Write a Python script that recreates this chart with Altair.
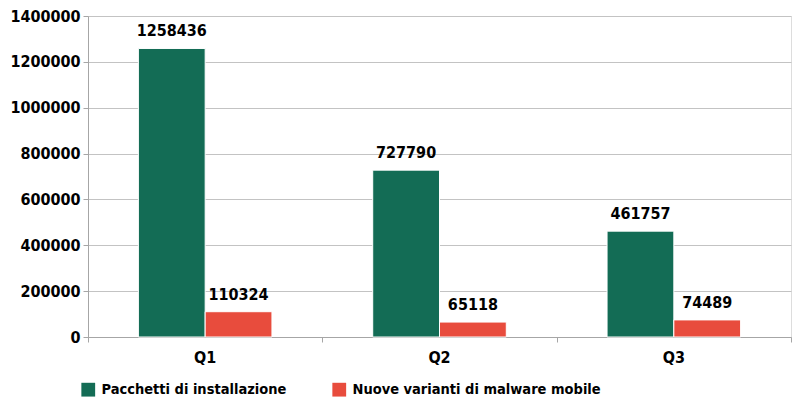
import altair as alt
import pandas as pd

quarters = ["Q1", "Q2", "Q3"]
series_names = ["Pacchetti di installazione", "Nuove varianti di malware mobile"]
pacchetti = [1258436, 727790, 461757]
varianti = [110324, 65118, 74489]
colors = ["#136c55", "#e84c3d"]
boundaries = [0, 1, 2, 3]

rows = []
for i, q in enumerate(quarters):
    rows.append({"q": q, "serie": series_names[0], "v": pacchetti[i]})
    rows.append({"q": q, "serie": series_names[1], "v": varianti[i]})
df = pd.DataFrame(rows)
df_b = pd.DataFrame({"b": boundaries})

FONT = "DejaVu Sans Condensed, sans-serif"
FS = 16

x = alt.X("q:N", title=None, sort=quarters,
          scale=alt.Scale(paddingInner=0.43, paddingOuter=0.215),
          axis=alt.Axis(orient="bottom", labelAngle=0, ticks=False,
                        labelPadding=12, domainColor="#a6a6a6",
                        labelFont=FONT, labelFontSize=FS, labelFontWeight="bold",
                        labelColor="#000000"))
xo = alt.XOffset("serie:N", sort=series_names)
y = alt.Y("v:Q", title=None,
          scale=alt.Scale(domain=[0, 1400000], nice=False),
          axis=alt.Axis(values=list(range(0, 1400001, 200000)), format="d",
                        tickSize=5, labelPadding=3, gridColor="#c3c3c3",
                        domainColor="#a6a6a6", tickColor="#a6a6a6",
                        labelFont=FONT, labelFontSize=FS, labelFontWeight="bold",
                        labelColor="#000000"))

base = alt.Chart(df)
bars = base.mark_bar(stroke="white", strokeWidth=1).encode(
    x=x, xOffset=xo, y=y,
    color=alt.Color("serie:N", sort=series_names, title=None,
                    scale=alt.Scale(domain=series_names, range=colors),
                    legend=alt.Legend(orient="none", direction="horizontal",
                                      legendX=-7, legendY=366,
                                      symbolType="square", symbolSize=190,
                                      symbolStrokeWidth=0,
                                      columnPadding=45, labelOffset=6,
                                      labelFont=FONT, labelFontSize=14.5,
                                      labelFontWeight="bold", labelColor="#000000",
                                      labelLimit=400)),
)
labels = base.mark_text(baseline="bottom", dy=-9, font=FONT, fontSize=FS,
                        fontWeight="bold", color="#000000").encode(
    x=x, xOffset=xo, y=y, text=alt.Text("v:Q", format="d"),
)

ticks = alt.Chart(df_b).mark_rule(opacity=0).encode(
    x=alt.X("b:Q", title=None, scale=alt.Scale(domain=[0, 3], nice=False),
            axis=alt.Axis(orient="bottom", values=boundaries, labels=False,
                          grid=False, tickSize=5, domain=False,
                          tickColor="#a6a6a6")),
)

chart = alt.layer(alt.layer(bars, labels), ticks).resolve_scale(
    x="independent"
).properties(
    width=703, height=321,
    autosize=alt.AutoSizeParams(type="none"),
    padding={"left": 80, "top": 8, "right": 1, "bottom": 61},
).configure_view(stroke=None).configure(background="white", font=FONT)

chart.save("out.html", embed_options={"renderer": "svg", "actions": False})
